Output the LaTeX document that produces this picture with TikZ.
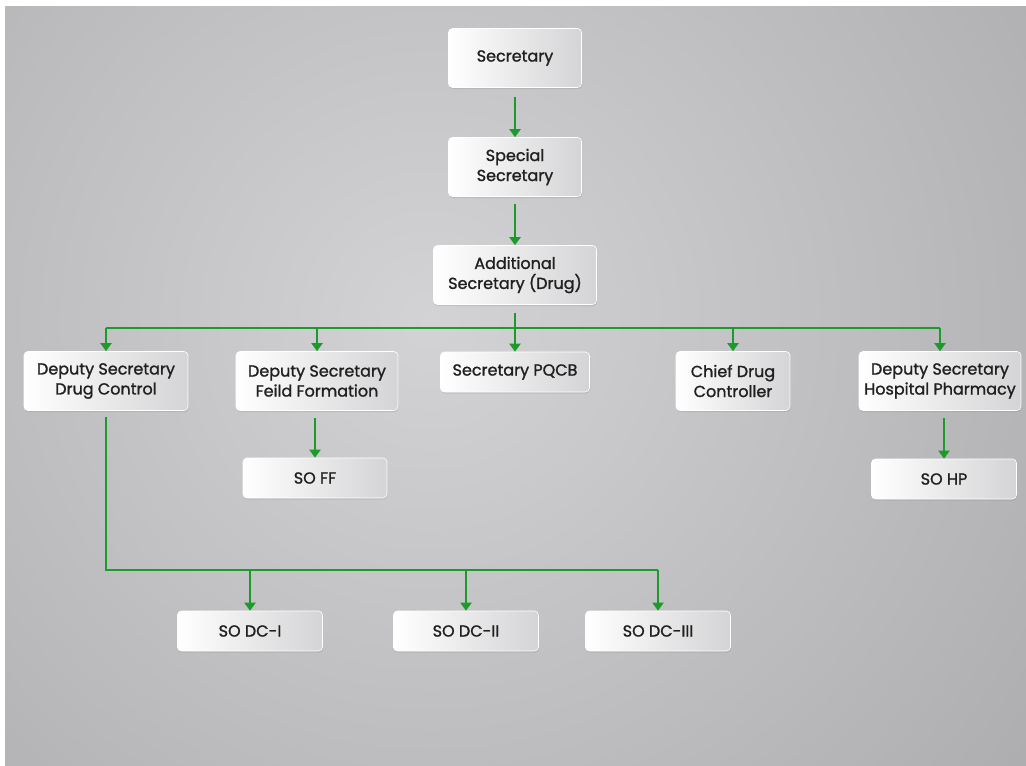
\documentclass[tikz,border=0pt]{standalone}
\usepackage{fontspec}
\setmainfont{Poppins}[FakeBold=1.3]
\usetikzlibrary{arrows.meta,shadows}
\definecolor{orgGreen}{HTML}{1C9B2B}
\definecolor{orgText}{HTML}{202020}
\definecolor{orgBoxEnd}{HTML}{D4D4D6}
\definecolor{orgBgA}{HTML}{D3D3D6}
\definecolor{orgBgB}{HTML}{ADADAF}
\definecolor{orgBgC}{HTML}{A2A2A3}
\definecolor{orgBgD}{HTML}{8A8887}
\pgfdeclareradialshading{orgbg}{\pgfpoint{0bp}{0bp}}{%
  color(0bp)=(orgBgA); color(23.7bp)=(orgBgB); color(29.5bp)=(orgBgC);
  color(33.2bp)=(orgBgD); color(50bp)=(orgBgD)}
\tikzset{
  org box/.style={rounded corners=4pt, draw=white, line width=0.6pt,
    left color=white, right color=orgBoxEnd, align=center, inner sep=2pt,
    font=\fontsize{16}{20}\selectfont, text=orgText,
    drop shadow={opacity=0.22, shadow xshift=0.6pt, shadow yshift=-1.6pt},
    minimum height=59pt},
  org small box/.style={org box, minimum height=40pt, minimum width=145pt},
  org line/.style={draw=orgGreen, line width=2pt},
  org arrow/.style={org line, -{Triangle[width=11pt,length=8pt]}},
}

\begin{document}
\begin{tikzpicture}[x=1pt,y=-1pt]
  \useasboundingbox (0,0) rectangle (1026,766);
  \fill[white] (0,0) rectangle (1026,766);

  % Background panel with soft radial light
  \begin{scope}
    \clip (5,6) rectangle (1026,766);
    \shade[shading=orgbg] (430,320) circle (800);
  \end{scope}

  % Top of the chain
  \node[org box, minimum width=133pt] (sec) at (515,58) {Secretary};
  \node[org box, minimum width=133pt] (spsec) at (515,167) {Special\\Secretary};
  \node[org box, minimum width=163pt] (addsec) at (515,275) {Additional\\Secretary (Drug)};

  % Second row
  \node[org box, minimum width=164pt] (dsdc) at (106,381) {Deputy Secretary\\Drug Control};
  \node[org box, minimum width=162pt] (dsff) at (317,381) {Deputy Secretary\\Feild Formation};
  \node[org box, minimum width=149pt, minimum height=40pt] (pqcb) at (515,372) {Secretary PQCB};
  \node[org box, minimum width=114pt] (cdc) at (733,381) {Chief Drug\\Controller};
  \node[org box, minimum width=162pt] (dshp) at (940,381) {Deputy Secretary\\Hospital Pharmacy};

  % Section officers
  \node[org small box, minimum width=144pt] (soff) at (315,478) {SO FF};
  \node[org small box] (sohp) at (944,479) {SO HP};
  \node[org small box] (sodc1) at (250,631) {SO DC-I};
  \node[org small box] (sodc2) at (466,631) {SO DC-II};
  \node[org small box] (sodc3) at (658,631) {SO DC-III};

  \coordinate (bus) at (515,328);
  \coordinate (dcbus) at (106,570);

  % Connectors
  \draw[org arrow, shorten <=9pt] (sec) -- (spsec);
  \draw[org arrow, shorten <=7pt] (spsec) -- (addsec);
  \draw[org line, shorten <=8pt] (addsec.south) -- (bus);
  \draw[org line] (dsdc.north |- bus) -- (dshp.north |- bus);
  \foreach \n in {dsdc,dsff,pqcb,cdc,dshp}
    \draw[org arrow] (\n.north |- bus) -- (\n.north);
  \draw[org arrow, shorten <=7pt] (soff.north |- dsff.south) -- (soff.north);
  \draw[org arrow, shorten <=7pt] (sohp.north |- dshp.south) -- (sohp.north);
  \draw[org line, shorten <=6pt] (dsdc.south) -- (dcbus) -- (sodc3.north |- dcbus);
  \foreach \n in {sodc1,sodc2,sodc3}
    \draw[org arrow] (\n.north |- dcbus) -- (\n.north);
\end{tikzpicture}
\end{document}
